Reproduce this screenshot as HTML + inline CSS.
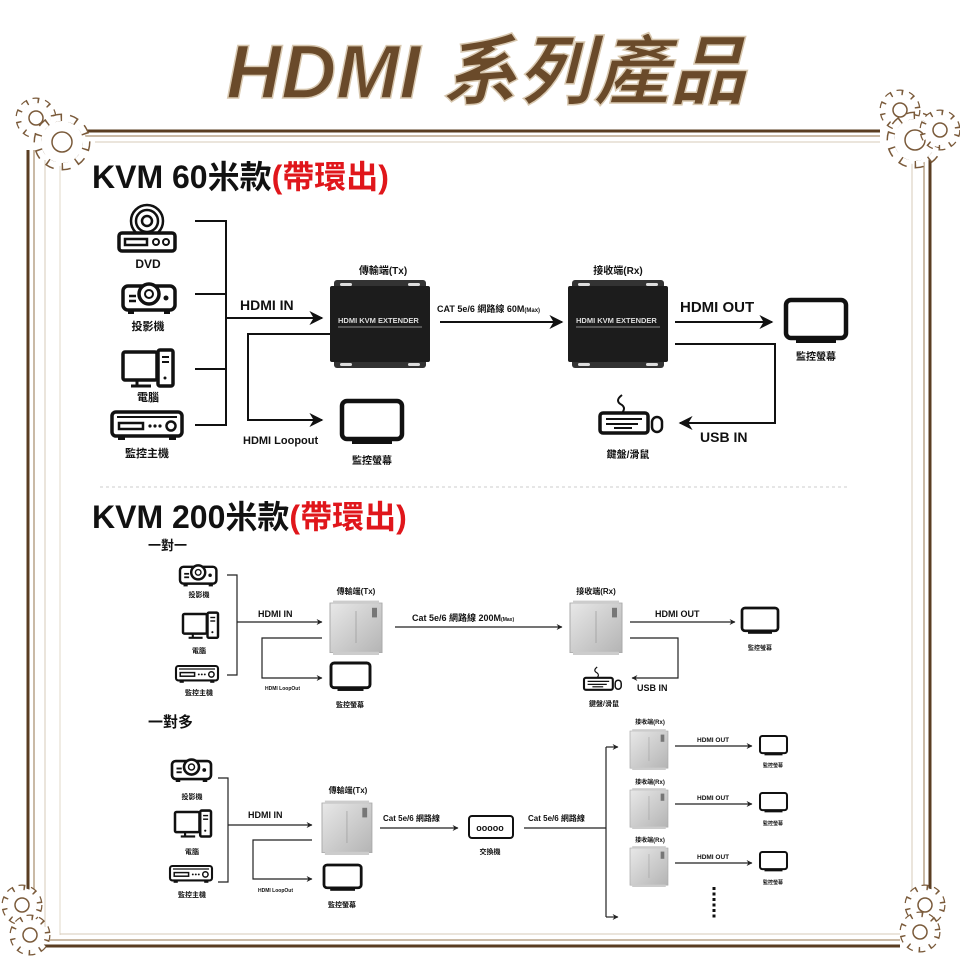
<!DOCTYPE html>
<html><head><meta charset="utf-8"><style>
html,body{margin:0;padding:0;background:#fff;}
svg{display:block;font-family:"Liberation Sans","Noto Sans CJK TC",sans-serif;}
.t{font-weight:bold;fill:#111;}
</style></head><body>
<svg width="960" height="960" viewBox="0 0 960 960" xmlns="http://www.w3.org/2000/svg">
<defs>
<marker id="ar" viewBox="0 0 10 10" refX="9" refY="5" markerWidth="7" markerHeight="7" orient="auto"><path d="M0,0 L10,5 L0,10 L3,5 z" fill="#111"/></marker>
<marker id="as" viewBox="0 0 10 10" refX="9" refY="5" markerWidth="5" markerHeight="5" orient="auto"><path d="M0,0 L10,5 L0,10 L3,5 z" fill="#222"/></marker>
<g id="gearS"><circle r="17" fill="#fff" stroke="#7a5a3a" stroke-width="7" stroke-dasharray="6 5"/><circle r="15" fill="#fff" stroke="none"/><circle r="17" fill="none" stroke="#fff" stroke-width="4.5" stroke-dasharray="5 6" stroke-dashoffset="0.5"/><circle r="7" fill="none" stroke="#7a5a3a" stroke-width="1.5"/></g>
<g id="gearL"><circle r="24" fill="#fff" stroke="#7a5a3a" stroke-width="9" stroke-dasharray="8 7"/><circle r="21" fill="#fff"/><circle r="24" fill="none" stroke="#fff" stroke-width="6" stroke-dasharray="7 8" stroke-dashoffset="0.5"/><circle r="10" fill="none" stroke="#7a5a3a" stroke-width="1.5"/></g>
<g id="mon"><rect x="0" y="0" width="60" height="38" rx="5" fill="none" stroke="#111" stroke-width="4.5"/><rect x="10" y="39" width="40" height="4" fill="#111"/></g>
<g id="proj"><rect x="0" y="4" width="52" height="24" rx="5" fill="none" stroke="#111" stroke-width="3.5"/><circle cx="26" cy="12" r="10" fill="#fff" stroke="#111" stroke-width="3.5"/><circle cx="26" cy="12" r="4" fill="none" stroke="#111" stroke-width="2"/><line x1="6" y1="14" x2="13" y2="14" stroke="#111" stroke-width="2.5"/><line x1="6" y1="19" x2="13" y2="19" stroke="#111" stroke-width="2.5"/><circle cx="43" cy="16" r="2.5" fill="#111"/><rect x="5" y="28" width="6" height="4" fill="#111"/><rect x="41" y="28" width="6" height="4" fill="#111"/></g>
<g id="pc"><rect x="0" y="0" width="34" height="28" rx="2" fill="none" stroke="#111" stroke-width="3.5"/><rect x="35" y="-2" width="15" height="36" rx="2" fill="#fff" stroke="#111" stroke-width="3.5"/><line x1="39" y1="5" x2="46" y2="5" stroke="#111" stroke-width="2"/><line x1="39" y1="10" x2="46" y2="10" stroke="#111" stroke-width="2"/><circle cx="42" cy="26" r="1.5" fill="#111"/><line x1="14" y1="28" x2="14" y2="33" stroke="#111" stroke-width="3"/><line x1="8" y1="34" x2="28" y2="34" stroke="#111" stroke-width="3"/></g>
<g id="dvr"><rect x="0" y="0" width="70" height="24" rx="4" fill="none" stroke="#111" stroke-width="3.5"/><line x1="5" y1="5" x2="65" y2="5" stroke="#111" stroke-width="2"/><rect x="7" y="11" width="24" height="6" fill="none" stroke="#111" stroke-width="2.5"/><circle cx="38" cy="14" r="1.6" fill="#111"/><circle cx="43" cy="14" r="1.6" fill="#111"/><circle cx="48" cy="14" r="1.6" fill="#111"/><circle cx="59" cy="14" r="4.5" fill="none" stroke="#111" stroke-width="2.5"/><rect x="6" y="24" width="7" height="4" fill="#111"/><rect x="57" y="24" width="7" height="4" fill="#111"/></g>
<g id="dvd"><circle cx="30" cy="16" r="16" fill="none" stroke="#111" stroke-width="2.5"/><circle cx="30" cy="16" r="11" fill="none" stroke="#111" stroke-width="2.5"/><circle cx="30" cy="16" r="5" fill="none" stroke="#111" stroke-width="2.5"/><rect x="2" y="28" width="56" height="18" rx="3" fill="#fff" stroke="#111" stroke-width="3.5"/><rect x="8" y="34" width="22" height="6" fill="none" stroke="#111" stroke-width="2.5"/><circle cx="39" cy="37" r="3" fill="none" stroke="#111" stroke-width="2"/><circle cx="49" cy="37" r="3" fill="none" stroke="#111" stroke-width="2"/></g>
<g id="kb"><path d="M22,0 q-8,6 0,10 q4,3 0,8" fill="none" stroke="#111" stroke-width="2"/><rect x="0" y="18" width="48" height="20" rx="3" fill="none" stroke="#111" stroke-width="3.5"/><line x1="6" y1="24" x2="42" y2="24" stroke="#111" stroke-width="2"/><line x1="6" y1="29" x2="38" y2="29" stroke="#111" stroke-width="2"/><line x1="14" y1="33" x2="32" y2="33" stroke="#111" stroke-width="2"/><rect x="52" y="22" width="10" height="15" rx="5" fill="none" stroke="#111" stroke-width="2.5"/></g>
<linearGradient id="lg" x1="0" y1="0" x2="1" y2="1"><stop offset="0" stop-color="#e8e8e8"/><stop offset="1" stop-color="#b4b4b4"/></linearGradient>
<g id="lbox"><rect x="0" y="0" width="52" height="62" fill="url(#lg)" stroke="#aaa"/><rect x="3" y="-3" width="46" height="4" fill="#ccc"/><rect x="3" y="61" width="46" height="4" fill="#ccc"/><line x1="26" y1="10" x2="26" y2="50" stroke="#999" stroke-width="0.7"/><rect x="42" y="6" width="5" height="12" fill="#777"/></g>
<g id="dbox"><rect x="4" y="-6" width="92" height="12" rx="3" fill="#333"/><rect x="4" y="70" width="92" height="12" rx="3" fill="#333"/><rect x="0" y="0" width="100" height="76" rx="2" fill="#1c1c1c"/><rect x="10" y="-3" width="12" height="3" rx="1.5" fill="#ddd"/><rect x="78" y="-3" width="12" height="3" rx="1.5" fill="#ddd"/><rect x="10" y="77" width="12" height="3" rx="1.5" fill="#ddd"/><rect x="78" y="77" width="12" height="3" rx="1.5" fill="#ddd"/><text x="8" y="37" font-size="7.5" fill="#ddd" font-weight="bold">HDMI KVM EXTENDER</text><line x1="8" y1="41" x2="92" y2="41" stroke="#666" stroke-width="1.5"/></g>
</defs>

<!-- title -->
<text x="486" y="98" text-anchor="middle" font-size="76" font-weight="bold" font-style="italic" fill="#6a4a2a" stroke="#d8c8b0" stroke-width="1.5">HDMI 系列產品</text>

<!-- frame -->
<g fill="none">
<line x1="80" y1="131" x2="880" y2="131" stroke="#5a3d22" stroke-width="3"/>
<line x1="80" y1="136" x2="880" y2="136" stroke="#b9a489" stroke-width="1.5"/>
<line x1="95" y1="142" x2="880" y2="142" stroke="#d7cbb9" stroke-width="1"/>
<line x1="28" y1="150" x2="28" y2="946" stroke="#5a3d22" stroke-width="3"/>
<line x1="34" y1="150" x2="34" y2="940" stroke="#b9a489" stroke-width="1.5"/>
<line x1="45" y1="160" x2="45" y2="940" stroke="#d7cbb9" stroke-width="1"/>
<line x1="60" y1="165" x2="60" y2="935" stroke="#e2d8c8" stroke-width="1"/>
<line x1="930" y1="150" x2="930" y2="900" stroke="#5a3d22" stroke-width="3"/>
<line x1="924" y1="150" x2="924" y2="900" stroke="#b9a489" stroke-width="1.5"/>
<line x1="912" y1="160" x2="912" y2="900" stroke="#d7cbb9" stroke-width="1"/>
<line x1="28" y1="946" x2="900" y2="946" stroke="#5a3d22" stroke-width="3"/>
<line x1="50" y1="940" x2="900" y2="940" stroke="#b9a489" stroke-width="1.5"/>
<line x1="60" y1="934" x2="900" y2="934" stroke="#d7cbb9" stroke-width="1"/>
</g>
<use href="#gearS" x="36" y="118"/><use href="#gearL" x="62" y="142"/>
<use href="#gearS" x="900" y="110"/><use href="#gearL" x="915" y="140"/><use href="#gearS" x="940" y="130"/>
<use href="#gearS" x="22" y="905"/><use href="#gearS" x="30" y="935"/>
<use href="#gearS" x="925" y="905"/><use href="#gearS" x="920" y="932"/>

<!-- section 1 -->
<text x="92" y="188" font-size="32" class="t">KVM 60米款<tspan fill="#e0161b">(帶環出)</tspan></text>
<use href="#dvd" x="117" y="205"/><text x="148" y="268" font-size="12" class="t" text-anchor="middle">DVD</text>
<use href="#proj" x="123" y="282"/><text x="148" y="330" font-size="11" class="t" text-anchor="middle">投影機</text>
<use href="#pc" x="123" y="352"/><text x="148" y="401" font-size="11" class="t" text-anchor="middle">電腦</text>
<use href="#dvr" x="112" y="412"/><text x="147" y="457" font-size="11" class="t" text-anchor="middle">監控主機</text>
<g stroke="#111" stroke-width="2" fill="none">
<polyline points="195,221 226,221 226,425 195,425"/>
<line x1="195" y1="294" x2="226" y2="294"/><line x1="195" y1="369" x2="226" y2="369"/>
<line x1="226" y1="318" x2="322" y2="318" marker-end="url(#ar)"/>
<polyline points="330,334 248,334 248,420 322,420" marker-end="url(#ar)"/>
<line x1="440" y1="322" x2="562" y2="322" marker-end="url(#ar)"/>
<line x1="675" y1="322" x2="772" y2="322" marker-end="url(#ar)"/>
<polyline points="675,344 775,344 775,423 680,423" marker-end="url(#ar)"/>
</g>
<text x="240" y="310" font-size="14" class="t">HDMI IN</text>
<text x="243" y="444" font-size="11" class="t">HDMI Loopout</text>
<text x="383" y="274" font-size="10" class="t" text-anchor="middle">傳輸端(Tx)</text>
<use href="#dbox" x="330" y="286"/>
<text x="437" y="312" font-size="9" class="t">CAT 5e/6 網路線 60M<tspan font-size="6">(Max)</tspan></text>
<text x="618" y="274" font-size="10" class="t" text-anchor="middle">接收端(Rx)</text>
<use href="#dbox" x="568" y="286"/>
<text x="680" y="312" font-size="15" class="t">HDMI OUT</text>
<use href="#mon" x="786" y="300"/><text x="816" y="360" font-size="10" class="t" text-anchor="middle">監控螢幕</text>
<use href="#mon" x="342" y="401"/><text x="372" y="464" font-size="10" class="t" text-anchor="middle">監控螢幕</text>
<use href="#kb" x="600" y="395"/><text x="628" y="458" font-size="10" class="t" text-anchor="middle">鍵盤/滑鼠</text>
<text x="700" y="442" font-size="14" class="t">USB IN</text>
<line x1="100" y1="487" x2="850" y2="487" stroke="#ccc" stroke-width="1" stroke-dasharray="3 3"/>

<!-- section 2 -->
<text x="92" y="528" font-size="32" class="t">KVM 200米款<tspan fill="#e0161b">(帶環出)</tspan></text>
<text x="148" y="550" font-size="13" class="t">一對一</text>
<g transform="translate(180,564) scale(0.7)"><use href="#proj"/></g><text x="199" y="597" font-size="7" class="t" text-anchor="middle">投影機</text>
<g transform="translate(183,614) scale(0.7)"><use href="#pc"/></g><text x="199" y="653" font-size="7" class="t" text-anchor="middle">電腦</text>
<g transform="translate(176,666) scale(0.6)"><use href="#dvr"/></g><text x="199" y="695" font-size="7" class="t" text-anchor="middle">監控主機</text>
<g stroke="#222" stroke-width="1.2" fill="none">
<polyline points="227,575 237,575 237,675 227,675"/>
<line x1="237" y1="622" x2="322" y2="622" marker-end="url(#as)"/>
<polyline points="322,638 262,638 262,678 322,678" marker-end="url(#as)"/>
<line x1="395" y1="627" x2="562" y2="627" marker-end="url(#as)"/>
<line x1="630" y1="622" x2="735" y2="622" marker-end="url(#as)"/>
<polyline points="630,638 678,638 678,678 632,678" marker-end="url(#as)"/>
</g>
<text x="258" y="617" font-size="9" class="t">HDMI IN</text>
<text x="265" y="690" font-size="5" class="t">HDMI LoopOut</text>
<text x="356" y="594" font-size="8" class="t" text-anchor="middle">傳輸端(Tx)</text>
<g transform="translate(330,603) scale(1,0.8)"><use href="#lbox"/></g>
<text x="412" y="621" font-size="9" class="t">Cat 5e/6 網路線 200M<tspan font-size="5">(Max)</tspan></text>
<text x="596" y="594" font-size="8" class="t" text-anchor="middle">接收端(Rx)</text>
<g transform="translate(570,603) scale(1,0.8)"><use href="#lbox"/></g>
<text x="655" y="617" font-size="9" class="t">HDMI OUT</text>
<g transform="translate(742,608) scale(0.6)"><use href="#mon"/></g><text x="760" y="650" font-size="6" class="t" text-anchor="middle">監控螢幕</text>
<g transform="translate(331,663) scale(0.65)"><use href="#mon"/></g><text x="350" y="707" font-size="7" class="t" text-anchor="middle">監控螢幕</text>
<g transform="translate(584,667) scale(0.6)"><use href="#kb"/></g><text x="604" y="706" font-size="7" class="t" text-anchor="middle">鍵盤/滑鼠</text>
<text x="637" y="691" font-size="9" class="t">USB IN</text>

<text x="148" y="727" font-size="15" class="t">一對多</text>
<g transform="translate(172,758) scale(0.75)"><use href="#proj"/></g><text x="192" y="799" font-size="7" class="t" text-anchor="middle">投影機</text>
<g transform="translate(175,812) scale(0.72)"><use href="#pc"/></g><text x="192" y="854" font-size="7" class="t" text-anchor="middle">電腦</text>
<g transform="translate(170,866) scale(0.6)"><use href="#dvr"/></g><text x="192" y="897" font-size="7" class="t" text-anchor="middle">監控主機</text>
<g stroke="#222" stroke-width="1.2" fill="none">
<polyline points="218,778 228,778 228,882 218,882"/>
<line x1="228" y1="825" x2="312" y2="825" marker-end="url(#as)"/>
<polyline points="312,840 253,840 253,879 312,879" marker-end="url(#as)"/>
<line x1="380" y1="828" x2="458" y2="828" marker-end="url(#as)"/>
<line x1="524" y1="828" x2="606" y2="828"/>
<line x1="606" y1="747" x2="606" y2="917"/>
<line x1="606" y1="747" x2="618" y2="747" marker-end="url(#as)"/>
<line x1="606" y1="917" x2="618" y2="917" marker-end="url(#as)"/>
<line x1="675" y1="746" x2="752" y2="746" marker-end="url(#as)"/>
<line x1="675" y1="804" x2="752" y2="804" marker-end="url(#as)"/>
<line x1="675" y1="863" x2="752" y2="863" marker-end="url(#as)"/>
</g>
<text x="248" y="818" font-size="9" class="t">HDMI IN</text>
<text x="258" y="892" font-size="5" class="t">HDMI LoopOut</text>
<text x="348" y="793" font-size="8" class="t" text-anchor="middle">傳輸端(Tx)</text>
<g transform="translate(322,803) scale(0.96,0.8)"><use href="#lbox"/></g>
<text x="383" y="821" font-size="8" class="t">Cat 5e/6 網路線</text>
<text x="528" y="821" font-size="8" class="t">Cat 5e/6 網路線</text>
<rect x="469" y="816" width="44" height="22" rx="3" fill="none" stroke="#111" stroke-width="2"/>
<text x="490" y="831" font-size="9" class="t" text-anchor="middle">ooooo</text>
<text x="490" y="854" font-size="7" class="t" text-anchor="middle">交換機</text>
<g transform="translate(324,865) scale(0.62,0.6)"><use href="#mon"/></g><text x="342" y="907" font-size="7" class="t" text-anchor="middle">監控螢幕</text>
<text x="650" y="724" font-size="6" class="t" text-anchor="middle">接收端(Rx)</text>
<g transform="translate(630,731) scale(0.73,0.6)"><use href="#lbox"/></g>
<text x="650" y="784" font-size="6" class="t" text-anchor="middle">接收端(Rx)</text>
<g transform="translate(630,790) scale(0.73,0.6)"><use href="#lbox"/></g>
<text x="650" y="842" font-size="6" class="t" text-anchor="middle">接收端(Rx)</text>
<g transform="translate(630,848) scale(0.73,0.6)"><use href="#lbox"/></g>
<text x="697" y="742" font-size="6.5" class="t">HDMI OUT</text>
<text x="697" y="800" font-size="6.5" class="t">HDMI OUT</text>
<text x="697" y="859" font-size="6.5" class="t">HDMI OUT</text>
<g transform="translate(760,736) scale(0.45)"><use href="#mon"/></g><text x="773" y="767" font-size="5" class="t" text-anchor="middle">監控螢幕</text>
<g transform="translate(760,793) scale(0.45)"><use href="#mon"/></g><text x="773" y="825" font-size="5" class="t" text-anchor="middle">監控螢幕</text>
<g transform="translate(760,852) scale(0.45)"><use href="#mon"/></g><text x="773" y="884" font-size="5" class="t" text-anchor="middle">監控螢幕</text>
<line x1="714" y1="887" x2="714" y2="920" stroke="#111" stroke-width="3" stroke-dasharray="3 2.5"/>
</svg>
</body></html>
